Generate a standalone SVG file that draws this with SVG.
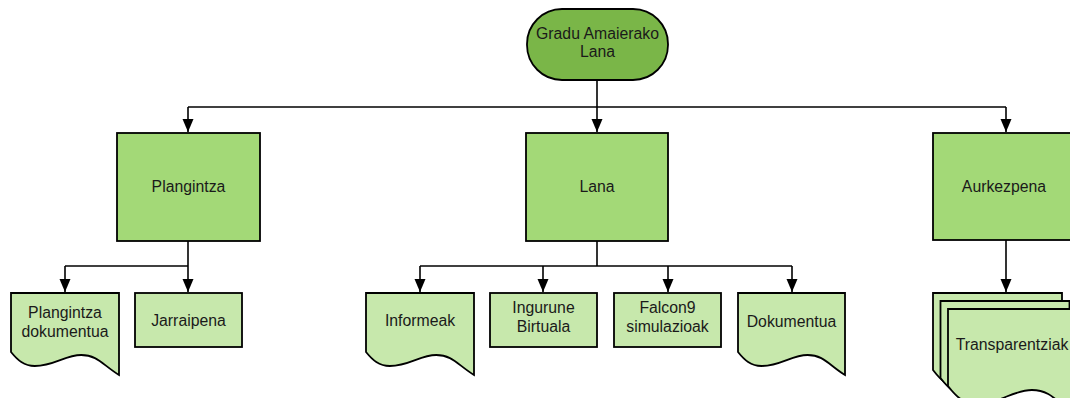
<svg xmlns="http://www.w3.org/2000/svg" xmlns:xlink="http://www.w3.org/1999/xlink" width="1070" height="398" viewBox="0 0 1070 398">
<style>
  .lbl { font-family: "Liberation Sans", Arial, sans-serif; font-size: 15.8px; fill: #1a1a1a; text-anchor: middle; }
  .top { fill: #7ab648; stroke: #000; stroke-width: 1.8; }
  .main { fill: #a3d977; stroke: #000; stroke-width: 1.8; }
  .leaf { fill: #c7e8ac; stroke: #000; stroke-width: 1.8; }
  .conn { fill: none; stroke: #000; stroke-width: 1.6; }
</style>
<defs>
  <marker id="arr" markerUnits="userSpaceOnUse" markerWidth="14" markerHeight="12" refX="13" refY="5.5" orient="auto">
    <path d="M0,0 L13,5.5 L0,11 Z" fill="#000"/>
  </marker>
  <path id="bigdoc" d="M0,0 H129 V107 C109.6,94 103.2,81 83.9,81 C64.5,81 51.6,95 28.4,95 C15.5,95 7.7,87 0,77 Z"/>
</defs>

<g id="connectors">
  <path class="conn" d="M597,80 V107"/>
  <path class="conn" d="M188,107 H1006"/>
  <path class="conn" d="M188,107 V132" marker-end="url(#arr)"/>
  <path class="conn" d="M597,107 V132" marker-end="url(#arr)"/>
  <path class="conn" d="M1006,107 V132" marker-end="url(#arr)"/>

  <path class="conn" d="M188,241 V266"/>
  <path class="conn" d="M65,266 H188"/>
  <path class="conn" d="M65,266 V292" marker-end="url(#arr)"/>
  <path class="conn" d="M188,266 V292" marker-end="url(#arr)"/>

  <path class="conn" d="M597,241 V266"/>
  <path class="conn" d="M420,266 H792"/>
  <path class="conn" d="M420,266 V292" marker-end="url(#arr)"/>
  <path class="conn" d="M543,266 V292" marker-end="url(#arr)"/>
  <path class="conn" d="M668,266 V292" marker-end="url(#arr)"/>
  <path class="conn" d="M792,266 V292" marker-end="url(#arr)"/>

  <path class="conn" d="M1006,240 V292" marker-end="url(#arr)"/>
</g>

<g id="node-gradu">
  <rect class="top" x="527" y="9" width="141" height="71" rx="35" ry="35"/>
  <text class="lbl" x="597.5" y="39">Gradu Amaierako</text>
  <text class="lbl" x="597.5" y="57">Lana</text>
</g>

<g id="node-plangintza">
  <rect class="main" x="117" y="133" width="143" height="108"/>
  <text class="lbl" x="188.5" y="192">Plangintza</text>
</g>

<g id="node-lana">
  <rect class="main" x="526" y="133" width="142" height="108"/>
  <text class="lbl" x="597" y="192">Lana</text>
</g>

<g id="node-aurkezpena">
  <rect class="main" x="933" y="133" width="143" height="107"/>
  <text class="lbl" x="1004" y="192">Aurkezpena</text>
</g>

<g id="node-plangintza-dokumentua">
  <path class="leaf" d="M11,293 H119 V375 C102.8,365 97.4,355 81.2,355 C65,355 54.2,366 34.8,366 C24,366 17.5,360 11,352 Z"/>
  <text class="lbl" x="65" y="318">Plangintza</text>
  <text class="lbl" x="65" y="337">dokumentua</text>
</g>

<g id="node-jarraipena">
  <rect class="leaf" x="135" y="293" width="107" height="54"/>
  <text class="lbl" x="188.5" y="326">Jarraipena</text>
</g>

<g id="node-informeak">
  <path class="leaf" d="M366,293 H474 V375 C457.8,365 452.4,355 436.2,355 C420,355 409.2,366 389.8,366 C379,366 372.5,360 366,352 Z"/>
  <text class="lbl" x="420" y="326">Informeak</text>
</g>

<g id="node-ingurune">
  <rect class="leaf" x="490" y="293" width="107" height="54"/>
  <text class="lbl" x="543.5" y="313">Ingurune</text>
  <text class="lbl" x="543.5" y="332">Birtuala</text>
</g>

<g id="node-falcon9">
  <rect class="leaf" x="614" y="293" width="107" height="54"/>
  <text class="lbl" x="667.5" y="313">Falcon9</text>
  <text class="lbl" x="667.5" y="332">simulazioak</text>
</g>

<g id="node-dokumentua">
  <path class="leaf" d="M738,293 H845 V375 C829,365 823.6,355 807.6,355 C791.5,355 780.8,366 761.5,366 C750.8,366 744.4,360 738,352 Z"/>
  <text class="lbl" x="791.5" y="327">Dokumentua</text>
</g>

<g id="node-transparentziak">
  <use xlink:href="#bigdoc" href="#bigdoc" class="leaf" transform="translate(933,293)"/>
  <use xlink:href="#bigdoc" href="#bigdoc" class="leaf" transform="translate(940.5,301)"/>
  <use xlink:href="#bigdoc" href="#bigdoc" class="leaf" transform="translate(948,309)"/>
  <text class="lbl" x="1012" y="350">Transparentziak</text>
</g>
</svg>
